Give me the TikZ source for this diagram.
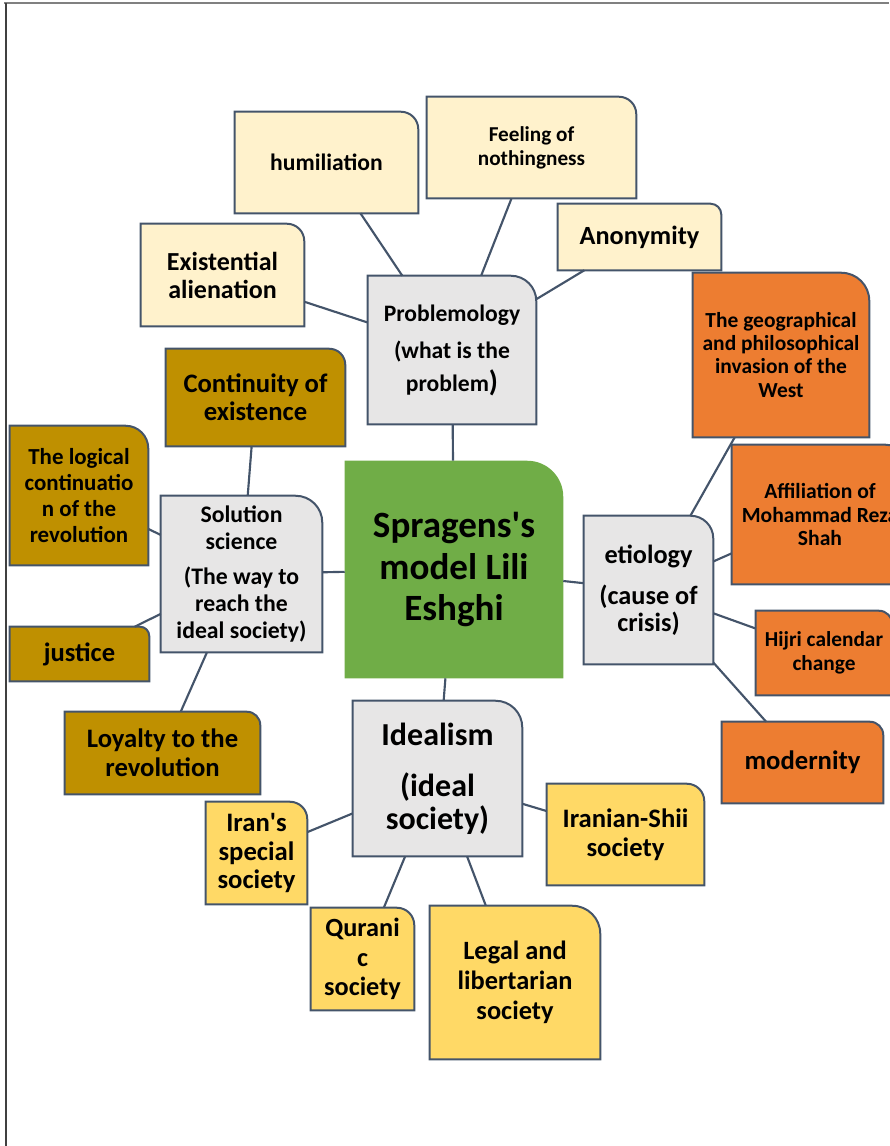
\documentclass[tikz,border=0pt]{standalone}
\usepackage{fontspec}
\setmainfont{Carlito}
\usepackage{tikz}
\usetikzlibrary{backgrounds}

\definecolor{edge}{HTML}{44546A}
\definecolor{cream}{HTML}{FFF2CC}
\definecolor{paper}{HTML}{E7E6E6}
\definecolor{rust}{HTML}{ED7D31}
\definecolor{ochre}{HTML}{BF9000}
\definecolor{butter}{HTML}{FFD966}
\definecolor{leaf}{HTML}{70AD47}

\tikzset{
  card/.style={align=center, inner sep=1pt},
  boxsize/.style 2 args={minimum width=#1*0.75pt, minimum height=#2*0.75pt},
  txt/.style 2 args={font=\fontsize{#1}{#2}\selectfont\bfseries},
  link/.style={draw=edge, line width=1.6pt},
}

\begin{document}
\begin{tikzpicture}[x=0.75pt, y=-0.75pt]
            \useasboundingbox (0,0) rectangle (889,1146);
            \clip (0,0) rectangle (889,1146);
            \draw[gray, line width=1.5pt] (4,3) -- (889,3);
            \draw[black!75, line width=1pt] (6,3) -- (6,1146);

            % problem side
            \node[card, boxsize={183}{101}, txt={17.7}{21}] (hum) at (326.5,162.5) {humiliation};
            \node[card, boxsize={209}{101}, txt={15.9}{18}] (feel) at (531.5,147.5) {Feeling of\\nothingness};
            \node[card, boxsize={163}{66}, txt={19.7}{23}] (anon) at (639.5,237) {Anonymity};
            \node[card, boxsize={163}{102}, txt={19.5}{21}] (exist) at (222.5,275) {Existential\\alienation};
            \node[card, boxsize={168}{148}, txt={17.7}{24.75}] (prob) at (452,350) {Problemology\\[3pt](what is the\\problem{\fontsize{22}{24}\selectfont )}};

            % causes
            \node[card, boxsize={176}{164}, txt={16.1}{17.3}] (geo) at (781,355) {The geographical\\and philosophical\\invasion of the\\West};
            \node[card, boxsize={176}{139}, txt={16.2}{17.6}] (affil) at (820,514.5) {Affiliation of\\Mohammad Reza\\Shah};
            \node[card, boxsize={129}{148}, txt={19.7}{20.25}] (etio) at (648.5,590) {etiology\\[10.5pt](cause of\\crisis)};
            \node[card, boxsize={136}{84}, txt={16}{18}] (hijri) at (824,653) {Hijri calendar\\change};
            \node[card, boxsize={161}{81}, txt={20}{22}] (modern) at (802.5,762.5) {modernity};

            % solutions
            \node[card, boxsize={179}{97}, txt={20}{21}] (cont) at (255.5,397.5) {Continuity of\\existence};
            \node[card, boxsize={138}{139}, txt={17.2}{19.5}] (logic) at (79,495.5) {The logical\\continuatio\\n of the\\revolution};
            \node[card, boxsize={161}{156}, txt={17.8}{20.25}] (sol) at (241.5,574) {Solution\\science\\[6pt](The way to\\reach the\\ideal society)};
            \node[card, boxsize={139}{54}, txt={19.9}{22}] (just) at (79.5,654) {justice};
            \node[card, boxsize={195}{82}, txt={20}{21.75}] (loyal) at (162.5,753) {Loyalty to the\\revolution};

            \node[card, boxsize={218}{217}, txt={27.8}{31}] (main) at (454,569.5) {Spragens\textquotesingle s\\model Lili\\Eshghi};

            % ideal society
            \node[card, boxsize={169}{155}, txt={24}{24.75}] (ideal) at (437.5,778.5) {Idealism\\[13.5pt](ideal\\society)};
            \node[card, boxsize={101}{102}, txt={20}{21.4}] (iran) at (256.5,853) {Iran\textquotesingle s\\special\\society};
            \node[card, boxsize={157}{101}, txt={20}{21.75}] (shii) at (625.5,834.5) {Iranian-Shii\\society};
            \node[card, boxsize={103}{102}, txt={19.7}{22}] (quran) at (362.5,959) {Qurani\\c\\society};
            \node[card, boxsize={170}{153}, txt={19.8}{22.5}] (legal) at (515,982.5) {Legal and\\libertarian\\society};

            \begin{pgfonlayer}{background}
              \foreach \n/\c/\r in {hum/cream/13, feel/cream/13, anon/cream/8, exist/cream/13, prob/paper/19,
                                    geo/rust/21, affil/rust/17, etio/paper/17, hijri/rust/10, modern/rust/10,
                                    cont/ochre/12, logic/ochre/17, sol/paper/20, just/ochre/7, loyal/ochre/10,
                                    ideal/paper/20, iran/butter/13, shii/butter/13, quran/butter/13, legal/butter/21}
                \filldraw[fill=\c, draw=edge, line width=1.5pt] (\n.south west) -- (\n.north west)
                  -- ([xshift=-\r pt]\n.north east) arc[start angle=90, end angle=0, radius=\r pt]
                  -- (\n.south east) -- cycle;
              \fill[leaf] (main.south west) -- (main.north west)
                  -- ([xshift=-27pt]main.north east) arc[start angle=90, end angle=0, radius=27pt]
                  -- (main.south east) -- cycle;
            \end{pgfonlayer}

            \foreach \a/\b in {hum/prob, feel/prob, anon/prob, exist/prob, prob/main,
                               main/etio, etio/geo, etio/affil, etio/hijri, etio/modern,
                               main/sol, sol/cont, sol/logic, sol/just, sol/loyal,
                               main/ideal, ideal/iran, ideal/quran, ideal/legal, ideal/shii}
              \draw[link] (\a) -- (\b);
        \end{tikzpicture}
\end{document}
